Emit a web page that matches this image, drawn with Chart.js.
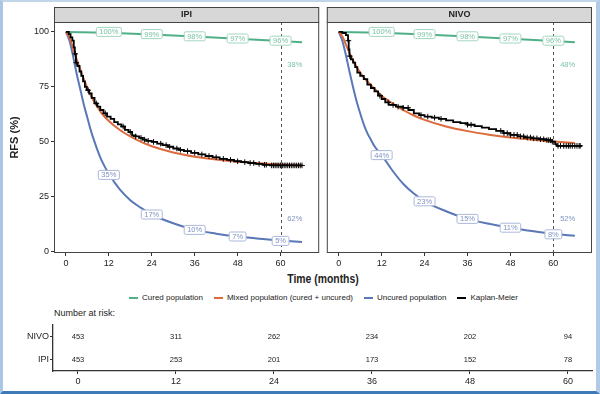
<!DOCTYPE html>
<html>
<head>
<meta charset="utf-8">
<script src="https://cdn.jsdelivr.net/npm/chart.js@4.4.0/dist/chart.umd.min.js"></script>
<style>
  html, body { margin: 0; padding: 0; background: #fff; }
  #wrap { position: relative; width: 600px; height: 394px; overflow: hidden; background: #fff;
          font-family: 'Liberation Sans', Arial, sans-serif; color: #222; }
  #frame { position: absolute; left: 0; top: 0; width: 600px; height: 394px; box-sizing: border-box;
           border-left: 3px solid #a9c6e4; border-top: 2px solid #c2d6eb; border-right: 4px solid #b1cbe7;
           border-bottom: 3px solid #3f7ab8; pointer-events: none; }
  canvas { position: absolute; }
  #c-ipi  { left: 0;   top: 0; }
  #c-nivo { left: 323px; top: 0; }
  #c-risk { left: 0;   top: 318px; }
  .txt { position: absolute; white-space: nowrap; }
  #x-title { left: 223px; width: 200px; top: 271px; text-align: center; font-size: 13px; font-weight: bold;
             transform: scaleX(0.8); transform-origin: 50% 50%; }
  #legend { position: absolute; left: 55px; width: 537px; top: 293px; display: flex; justify-content: center;
            gap: 11px; font-size: 8px; color: #222; }
  .lg-item { display: flex; align-items: center; gap: 4px; }
  .lg-line { width: 9px; height: 2px; }
  #risk-title { left: 54px; top: 308px; font-size: 9px; }
</style>
</head>
<body>
<div id="wrap">
  <canvas id="c-ipi" width="323" height="270"></canvas>
  <canvas id="c-nivo" width="277" height="270"></canvas>
  <div class="txt" id="x-title">Time (months)</div>
  <div id="legend"></div>
  <div class="txt" id="risk-title">Number at risk:</div>
  <canvas id="c-risk" width="600" height="72"></canvas>
  <div id="frame"></div>
</div>
<script>
/* ─── data ─── */
const X_TICKS = [0, 12, 24, 36, 48, 60];
const Y_TICKS = [0, 25, 50, 75, 100];
const LABEL_MONTHS = [12, 24, 36, 48, 60];

const SERIES_NAMES = ['Cured population', 'Mixed population (cured + uncured)', 'Uncured population', 'Kaplan-Meier'];

const curedMonths = [0, 12, 24, 36, 48, 60, 66];
const curedIPI  = [100, 99.6, 98.8, 97.9, 96.9, 95.9, 95.3];
const curedNIVO = [100, 99.6, 98.8, 97.9, 96.9, 95.9, 95.3];

const modelMonths = [0, 1, 2, 3, 4, 5, 6, 7, 8, 9, 10, 12, 15, 18, 21, 24, 30, 36, 42, 48, 54, 60, 66];
const mixedIPI    = [100, 97.5, 92.5, 87.5, 83, 78.5, 74.5, 71, 68, 65.5, 63, 59.5, 55.5, 52.5, 50, 48, 45.2, 43.3, 42, 41, 40.3, 39.7, 39.2];
const uncuredIPI  = [100, 96, 89, 81, 74, 67, 61, 55, 50, 45.5, 41.5, 35.5, 28.5, 23.5, 20, 17, 13, 10, 8.3, 7, 6, 5.2, 4.5];
const mixedNIVO   = [100, 98, 94.3, 90.5, 87, 84, 81.5, 79.3, 77.5, 75.8, 74.2, 71, 67.5, 64.5, 62, 60, 57, 54.9, 53.3, 52, 51, 50.2, 49.5];
const uncuredNIVO = [100, 96, 89.5, 82, 75, 68.5, 63, 58, 54, 51, 48, 44, 37, 31, 26.5, 23, 18.5, 15, 12.8, 11, 9.5, 8.2, 7.3];

const kmMonthsIPI = [0, 0.8, 1.3, 1.8, 2.2, 2.5, 2.8, 3.2, 3.8, 4.3, 4.8, 5.3, 5.8, 6.5, 7.2, 8, 8.8, 9.6, 10.5, 11.5,
  12.5, 13.5, 14.5, 15.5, 16.5, 17.5, 18.5, 19.5, 20.5, 21.5, 22.5, 24, 25.5, 27, 28.5, 30, 31.5, 33, 35, 37,
  39, 41, 43, 45, 47, 49, 51, 53, 55, 57, 66];
const kmIPI = [100, 99, 97.5, 96, 93, 90, 86, 84.5, 82, 80, 77.5, 75, 73.5, 72, 70, 67.5, 66, 64.5, 63, 61.5,
  60.5, 59, 58, 57, 55.5, 54.5, 53, 52.5, 51.8, 51, 50.5, 50, 49.2, 48.5, 47.8, 47, 46.4, 45.8, 45, 44.3,
  43.6, 43, 42.3, 41.8, 41.2, 40.8, 40.4, 40, 39.6, 39.3, 39.3];
const censorIPI = [2.6, 2.9, 6.2, 8.5, 11, 16, 18, 19.5, 21, 22, 23, 24.5, 26.5, 28, 29, 31, 32, 34, 36, 38,
  40, 42, 44, 46, 48, 50, 51.5, 52.5, 54, 55.5, 56, 57.5, 58, 58.5, 59, 59.5, 60, 60.5, 61, 61.5, 62, 62.5,
  63, 63.5, 64, 64.5, 65, 65.5, 66];

const kmMonthsNIVO = [0, 1, 2, 2.6, 2.8, 3, 3.4, 4, 4.6, 5.2, 6, 7, 8, 9, 10, 11, 12, 13, 14, 16, 18, 19.5, 21,
  22.5, 24, 26, 28, 30, 32, 34, 36, 38, 40, 42, 44, 46, 48, 50, 52, 54, 56, 58, 59.5, 60.5, 61, 68];
const kmNIVO = [100, 99.5, 98.5, 96, 92, 89, 87.5, 86, 84, 81.5, 80, 78.5, 76, 74.5, 73, 71, 69.5, 68, 66.8, 66,
  65.5, 64.5, 63, 62.2, 61.5, 61, 60.5, 59.8, 59, 58.5, 57.8, 57.2, 56.5, 55.8, 55, 54, 53.2, 52.5, 52, 51.6,
  51.2, 50.8, 50.1, 49, 48.2, 48.2];
const censorNIVO = [2.7, 3.1, 11.5, 13.8, 15.2, 16.6, 18, 19.4, 23, 24.9, 26.8, 28.6, 36, 37, 45.3, 46.2, 47.1,
  48, 49, 49.9, 50.8, 51.7, 52.7, 53.6, 54.5, 55.4, 56.4, 57.3, 58.2, 58.7, 59.2, 59.7, 61.3, 62, 62.9, 63.6,
  64.2, 64.7, 65.3, 66, 66.6, 67.2, 67.5];

const curedLabelsIPI    = [100, 99, 98, 97, 96];
const uncuredLabelsIPI  = [35, 17, 10, 7, 5];
const curedLabelsNIVO   = [100, 99, 98, 97, 96];
const uncuredLabelsNIVO = [44, 23, 15, 11, 8];
const cureFractionIPI  = [38, 62];
const cureFractionNIVO = [48, 52];
const FRACTION_MONTH = 64;
const FRACTION_Y = [85, 15];

const RISK_ROWS  = ['NIVO', 'IPI'];
const riskMonths = [0, 12, 24, 36, 48, 60];
const riskNIVO   = [453, 311, 262, 234, 202, 94];
const riskIPI    = [453, 253, 201, 173, 152, 78];

/* ─── styling ─── */
const FONT = "'Liberation Sans', Arial, sans-serif";
const GREEN = '#4fb088', ORANGE = '#dc6a3d', BLUE = '#5a77b7', BLACK = '#000';
const COLORS = [GREEN, ORANGE, BLUE, BLACK];
const GREEN_LBL = { text: '#7cc3a5', border: '#a3d6c0' };
const BLUE_LBL  = { text: '#8093c3', border: '#aab8dc' };
const AXIS = '#333';

Chart.defaults.font.family = FONT;
Chart.defaults.color = '#222';
Chart.defaults.animation = false;

const pts = (xs, ys) => xs.map((x, i) => ({ x, y: ys[i] }));
function kmAt(ms, vs, t) {
  let v = vs[0];
  for (let i = 0; i < ms.length; i++) if (ms[i] <= t) v = vs[i];
  return v;
}

/* ─── panel decoration: strip, border, dashed 60-month line, curve labels ─── */
const panelDeco = {
  id: 'panelDeco',
  beforeDatasetsDraw(chart, args, o) {
    const { ctx, chartArea: a, scales: { x } } = chart;
    const px = Math.round(x.getPixelForValue(o.refMonth)) + 0.5;
    ctx.save();
    ctx.strokeStyle = '#555'; ctx.lineWidth = 1; ctx.setLineDash([3, 3]);
    ctx.beginPath(); ctx.moveTo(px, a.top); ctx.lineTo(px, a.bottom); ctx.stroke();
    ctx.restore();
  },
  afterDatasetsDraw(chart, args, o) {
    const { ctx, scales: { x, y } } = chart;
    ctx.save();
    ctx.font = '7.5px ' + FONT;
    ctx.textAlign = 'center'; ctx.textBaseline = 'middle';
    o.boxes.forEach(b => {
      b.values.forEach((v, i) => {
        const cx = x.getPixelForValue(LABEL_MONTHS[i]), cy = y.getPixelForValue(v);
        const t = v + '%', w = ctx.measureText(t).width + 6, h = 9;
        ctx.beginPath(); ctx.roundRect(cx - w / 2, cy - h / 2, w, h, 1.5);
        ctx.fillStyle = '#fff'; ctx.fill();
        ctx.strokeStyle = b.style.border; ctx.lineWidth = 1; ctx.stroke();
        ctx.fillStyle = b.style.text; ctx.fillText(t, cx, cy + 0.5);
      });
    });
    o.fractions.forEach((v, i) => {
      ctx.fillStyle = i === 0 ? GREEN_LBL.text : BLUE_LBL.text;
      ctx.fillText(v + '%', x.getPixelForValue(FRACTION_MONTH), y.getPixelForValue(FRACTION_Y[i]));
    });
    ctx.restore();
  },
  afterDraw(chart, args, o) {
    const { ctx, chartArea: a } = chart;
    ctx.save();
    ctx.strokeStyle = '#444'; ctx.lineWidth = 1;
    ctx.fillStyle = '#d7d7d7';
    ctx.fillRect(a.left, a.top - 15, a.right - a.left, 15);
    ctx.strokeRect(a.left + 0.5, a.top - 14.5, a.right - a.left - 1, 15);
    ctx.strokeRect(a.left + 0.5, a.top + 0.5, a.right - a.left - 1, a.bottom - a.top - 1);
    ctx.fillStyle = '#222'; ctx.font = 'bold 9px ' + FONT;
    ctx.textAlign = 'center'; ctx.textBaseline = 'middle';
    ctx.fillText(o.title, (a.left + a.right) / 2, a.top - 7);
    ctx.restore();
  }
};

function panelChart(id, cfg) {
  return new Chart(document.getElementById(id), {
    type: 'line',
    data: {
      datasets: [
        { data: cfg.censor.map(t => ({ x: t, y: kmAt(cfg.kmMonths, cfg.km, t) })), showLine: false,
          pointStyle: 'cross', pointRadius: 2.8, borderColor: BLACK, borderWidth: 1, pointHoverRadius: 0 },
        { label: SERIES_NAMES[3], data: pts(cfg.kmMonths, cfg.km), borderColor: BLACK, borderWidth: 1.8,
          stepped: true, pointRadius: 0 },
        { label: SERIES_NAMES[1], data: pts(modelMonths, cfg.mixed), borderColor: ORANGE, borderWidth: 2,
          cubicInterpolationMode: 'monotone', pointRadius: 0 },
        { label: SERIES_NAMES[2], data: pts(modelMonths, cfg.uncured), borderColor: BLUE, borderWidth: 2,
          cubicInterpolationMode: 'monotone', pointRadius: 0 },
        { label: SERIES_NAMES[0], data: pts(curedMonths, cfg.cured), borderColor: GREEN, borderWidth: 2,
          pointRadius: 0 },
      ]
    },
    options: {
      responsive: false,
      layout: { padding: cfg.padding },
      plugins: {
        legend: { display: false }, tooltip: { enabled: false },
        panelDeco: { title: cfg.title, refMonth: 60, fractions: cfg.fractions,
          boxes: [{ values: cfg.curedLabels, style: GREEN_LBL }, { values: cfg.uncuredLabels, style: BLUE_LBL }] }
      },
      scales: {
        x: {
          type: 'linear', min: -3.33, max: 70.8,
          afterBuildTicks: s => { s.ticks = X_TICKS.map(v => ({ value: v })); },
          afterFit: s => { s.height = 17; },
          grid: { drawOnChartArea: false, tickLength: 3, color: AXIS },
          border: { display: false },
          ticks: { font: { size: 9 }, color: '#222', padding: 2, maxRotation: 0 }
        },
        y: {
          display: cfg.showY, min: -0.5, max: 104.5,
          afterBuildTicks: s => { s.ticks = Y_TICKS.map(v => ({ value: v })); },
          afterFit: s => { s.width = cfg.showY ? 54 : 0; },
          grid: { drawOnChartArea: false, tickLength: 3, color: AXIS },
          border: { display: false },
          ticks: { font: { size: 9 }, color: '#222', padding: 2 },
          title: { display: true, text: 'RFS (%)', font: { size: 11, weight: 'bold' }, color: '#222',
                   padding: { top: 8, bottom: 0 } }
        }
      }
    },
    plugins: [panelDeco]
  });
}

panelChart('c-ipi', {
  title: 'IPI', showY: true, padding: { left: 0, right: 2, top: 22, bottom: 0 },
  cured: curedIPI, mixed: mixedIPI, uncured: uncuredIPI,
  kmMonths: kmMonthsIPI, km: kmIPI, censor: censorIPI,
  curedLabels: curedLabelsIPI, uncuredLabels: uncuredLabelsIPI, fractions: cureFractionIPI
});
panelChart('c-nivo', {
  title: 'NIVO', showY: false, padding: { left: 2, right: 8, top: 22, bottom: 0 },
  cured: curedNIVO, mixed: mixedNIVO, uncured: uncuredNIVO,
  kmMonths: kmMonthsNIVO, km: kmNIVO, censor: censorNIVO,
  curedLabels: curedLabelsNIVO, uncuredLabels: uncuredLabelsNIVO, fractions: cureFractionNIVO
});

/* ─── legend ─── */
document.getElementById('legend').innerHTML = SERIES_NAMES.map((n, i) =>
  `<div class="lg-item"><span class="lg-line" style="background:${COLORS[i]}"></span><span>${n}</span></div>`
).join('');

/* ─── number at risk table ─── */
const riskText = {
  id: 'riskText',
  afterDraw(chart) {
    const { ctx, scales: { x, y } } = chart;
    ctx.save();
    ctx.font = '7.5px ' + FONT; ctx.fillStyle = '#222';
    ctx.textAlign = 'center'; ctx.textBaseline = 'middle';
    [riskNIVO, riskIPI].forEach((row, r) => {
      row.forEach((n, i) => ctx.fillText(String(n), x.getPixelForValue(riskMonths[i]), y.getPixelForValue(RISK_ROWS[r])));
    });
    ctx.restore();
  }
};

new Chart(document.getElementById('c-risk'), {
  type: 'line',
  data: { datasets: [{ data: [] }] },
  options: {
    responsive: false,
    layout: { padding: { left: 0, right: 8, top: 7, bottom: 0 } },
    plugins: { legend: { display: false }, tooltip: { enabled: false } },
    scales: {
      x: {
        type: 'linear', min: -3.06, max: 62.94,
        afterBuildTicks: s => { s.ticks = riskMonths.map(v => ({ value: v })); },
        afterFit: s => { s.height = 19; },
        grid: { drawOnChartArea: false, tickLength: 3, color: AXIS },
        border: { display: true, color: AXIS, width: 1.3 },
        ticks: { font: { size: 9 }, color: '#222', padding: 2, maxRotation: 0 }
      },
      y: {
        type: 'category', labels: RISK_ROWS, offset: true,
        afterFit: s => { s.width = 53; },
        grid: { drawOnChartArea: false, tickLength: 3, color: AXIS, offset: false },
        border: { display: true, color: AXIS, width: 1.3 },
        ticks: { font: { size: 9 }, color: '#222', padding: 1 }
      }
    }
  },
  plugins: [riskText]
});
</script>
</body>
</html>
